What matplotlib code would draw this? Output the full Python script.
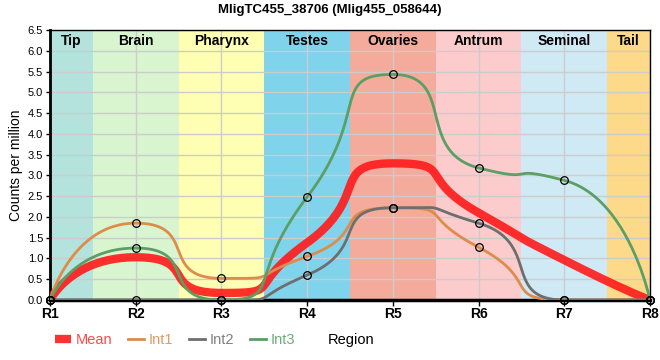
import numpy as np
import matplotlib
matplotlib.use("Agg")
import matplotlib.pyplot as plt
from matplotlib.lines import Line2D

plt.rcParams['font.family'] = ['Liberation Sans', 'DejaVu Sans']

title = "MligTC455_38706 (Mlig455_058644)"
regions = ["R1", "R2", "R3", "R4", "R5", "R6", "R7", "R8"]
tissues = ["Tip", "Brain", "Pharynx", "Testes", "Ovaries", "Antrum", "Seminal", "Tail"]
tissue_colors = ["#b4e3de", "#d9f5d0", "#ffffb4", "#7fd3eb", "#f4ab9c", "#fccbcb", "#cfeaf4", "#fdd98a"]

mean_cpm = [0.0, 1.03, 0.17, 1.38, 3.29, 2.10, 0.96, 0.0]
int1 = [0.0, 1.85, 0.52, 1.05, 2.22, 1.27, 0.0, 0.0]
int2 = [0.0, 0.0, 0.0, 0.60, 2.22, 1.85, 0.0, 0.0]
int3 = [0.0, 1.25, 0.0, 2.48, 5.43, 3.18, 2.88, 0.0]

c_mean = "#ff1a1a"
c_int1 = "#dd8c4c"
c_int2 = "#6e6e6e"
c_int3 = "#5c9e64"


def smooth_curve(v_y, n_seg=50, a=0.75):
    # monotone-ish bezier through the points (drawing only)
    v_y = np.asarray(v_y, dtype=float)
    v_x = np.arange(1, len(v_y) + 1, dtype=float)
    v_d = np.diff(v_y)
    v_m = np.zeros(len(v_y))
    for i in range(1, len(v_y) - 1):
        if v_d[i - 1] * v_d[i] > 0:
            v_m[i] = 2 / (1 / v_d[i - 1] + 1 / v_d[i])
    t = np.linspace(0, 1, n_seg)
    b0, b1, b2, b3 = (1 - t) ** 3, 3 * (1 - t) ** 2 * t, 3 * (1 - t) * t ** 2, t ** 3
    xs, ys = [], []
    n = len(v_y)
    for i in range(n - 1):
        if i == 0:
            c1 = (v_x[i], v_y[i])
        else:
            c1 = (v_x[i] + a, v_y[i] + a * v_m[i])
        if i == n - 2:
            c2 = (v_x[i + 1], v_y[i + 1])
        else:
            c2 = (v_x[i + 1] - a, v_y[i + 1] - a * v_m[i + 1])
        xs.append(b0 * v_x[i] + b1 * c1[0] + b2 * c2[0] + b3 * v_x[i + 1])
        ys.append(b0 * v_y[i] + b1 * c1[1] + b2 * c2[1] + b3 * v_y[i + 1])
    return np.concatenate(xs), np.concatenate(ys)


fig = plt.figure(figsize=(6.6, 3.6), dpi=100)
ax = fig.add_axes([50 / 660, 60 / 360, 600 / 660, 270 / 360])

x_pos = np.arange(1, len(regions) + 1)
for i, (lab, col) in enumerate(zip(tissues, tissue_colors)):
    lo = max(1, x_pos[i] - 0.5)
    hi = min(len(regions), x_pos[i] + 0.5)
    ax.axvspan(lo, hi, color=col, lw=0, zorder=0)
    ax.text((lo + hi) / 2, 0.96, lab, transform=ax.get_xaxis_transform(),
            ha="center", va="center", fontsize=10, fontweight="bold", zorder=5)

ax.grid(True, color="#cccccc", lw=1)

x_m, y_m = smooth_curve(mean_cpm)
ax.plot(x_m, y_m, color=c_mean, lw=6, alpha=0.9, solid_capstyle="butt", zorder=3)
for v, c in [(int1, c_int1), (int2, c_int2), (int3, c_int3)]:
    xs, ys = smooth_curve(v)
    ax.plot(xs, ys, color=c, lw=2, zorder=4)
    ax.plot(x_pos, v, ls="none", marker="o", ms=5.5, mfc="none", mec="black",
            mew=0.9, zorder=6, clip_on=False)

ax.set_xlim(1, len(regions))
ax.set_ylim(0, 6.5)
ax.set_xticks(x_pos)
ax.set_xticklabels(regions, fontsize=10, fontweight="bold")
ax.set_yticks(np.arange(0, 6.51, 0.5))
ax.set_yticklabels([f"{v:.1f}" for v in np.arange(0, 6.51, 0.5)], fontsize=8)
ax.tick_params(axis="x", length=4, width=1, pad=1)
ax.tick_params(axis="y", length=3, width=1, pad=2)
ax.spines["left"].set_linewidth(2)
ax.spines["bottom"].set_linewidth(2.5)
ax.spines["top"].set_linewidth(1)
ax.spines["right"].set_linewidth(1)
ax.set_ylabel("Counts per million", fontsize=10)
ax.yaxis.set_label_coords(-27 / 600, 0.5)

fig.suptitle(title, x=0.5, y=1 - 10 / 360, va="center", fontsize=9.5, fontweight="bold")

handles = [
    Line2D([], [], color=c_mean, lw=6, alpha=0.9, solid_capstyle="butt"),
    Line2D([], [], color=c_int1, lw=2),
    Line2D([], [], color=c_int2, lw=2),
    Line2D([], [], color=c_int3, lw=2),
]
leg = fig.legend(handles, ["Mean", "Int1", "Int2", "Int3"], loc="center left",
                 bbox_to_anchor=(55 / 660, 1 - 340 / 360), ncol=4, frameon=False,
                 fontsize=10.5, handlelength=1.1, handletextpad=0.3, columnspacing=1.1,
                 borderpad=0, borderaxespad=0)
for txt, c in zip(leg.get_texts(), ["#ff4a4a", "#e39a62", "#808080", "#6cad76"]):
    txt.set_color(c)
fig.text(351 / 660, 1 - 340 / 360, "Region", ha="center", va="center", fontsize=10.5)

fig.savefig("out.png", dpi=100)
